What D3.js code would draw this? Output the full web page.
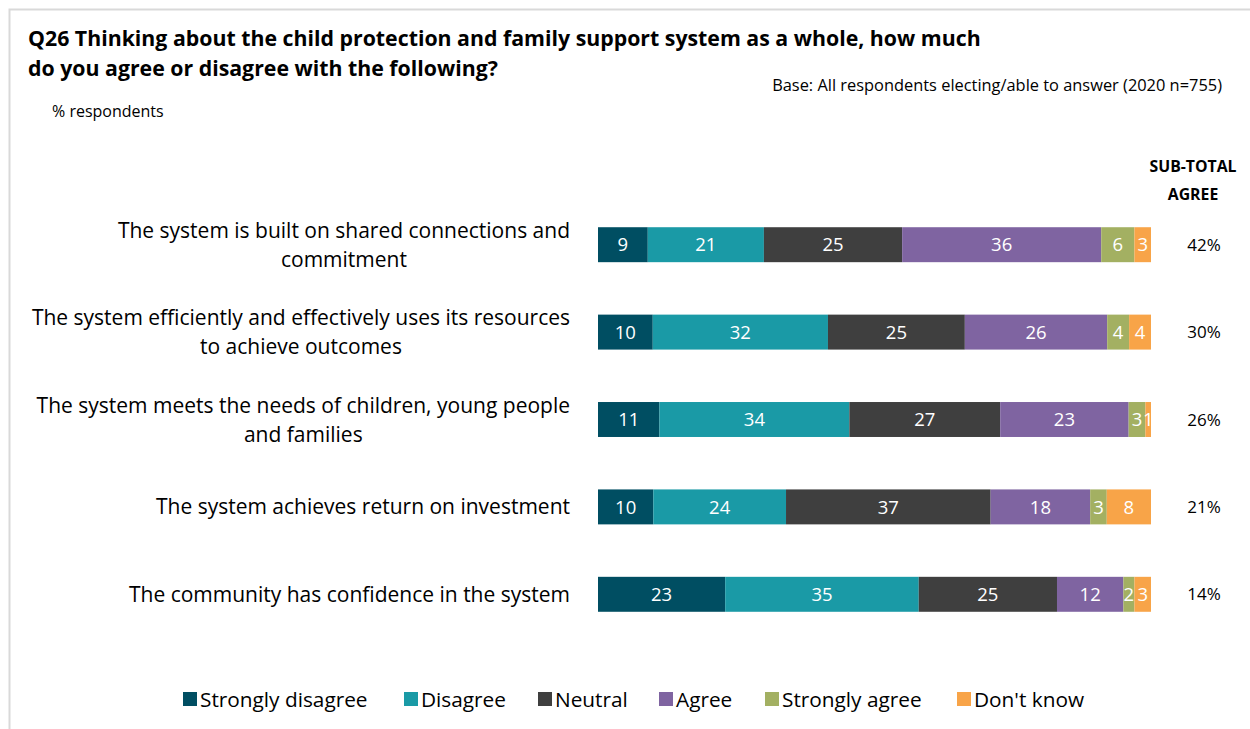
<!DOCTYPE html>
<html>
<head>
<meta charset="utf-8">
<script src="https://cdn.jsdelivr.net/npm/d3@7"></script>
<style>
  html, body { margin: 0; padding: 0; background: #fff; }
  svg { display: block; font-family: "Open Sans", "Noto Sans", sans-serif; }
</style>
</head>
<body>
<svg id="chart" width="1250" height="729"></svg>
<script>
// Survey statements (each entry is the list of lines a label wraps to)
const statements = [
  ["The system is built on shared connections and", "commitment"],
  ["The system efficiently and effectively uses its resources", "to achieve outcomes"],
  ["The system meets the needs of children, young people", "and families"],
  ["The system achieves return on investment"],
  ["The community has confidence in the system"]
];

const responseLevels = ["Strongly disagree", "Disagree", "Neutral", "Agree", "Strongly agree", "Don't know"];
const levelColors = ["#004e62", "#1a9aa6", "#3f3f3f", "#7f64a1", "#a3b062", "#f8a448"];

// Per-statement share of respondents (%) for each response level
const stronglyDisagree = [9, 10, 11, 10, 23];
const disagree         = [21, 32, 34, 24, 35];
const neutral          = [25, 25, 27, 37, 25];
const agree            = [36, 26, 23, 18, 12];
const stronglyAgree    = [6, 4, 3, 3, 2];
const dontKnow         = [3, 4, 1, 8, 3];

// Sub-total agree (%)
const subtotalAgree = [42, 30, 26, 21, 14];

const series = [stronglyDisagree, disagree, neutral, agree, stronglyAgree, dontKnow];
const rows = statements.map((s, i) => {
  const r = { id: i };
  responseLevels.forEach((lvl, j) => { r[lvl] = series[j][i]; });
  return r;
});

const svg = d3.select("#chart");

// Outer frame
svg.append("rect")
  .attr("x", 9.5).attr("y", 9.5)
  .attr("width", 1260).attr("height", 740)
  .attr("fill", "none").attr("stroke", "#d9d9d9").attr("stroke-width", 2);

// Title block
const title = svg.append("text")
  .attr("x", 28).attr("font-weight", "bold").attr("font-size", 21.3).attr("fill", "#000");
title.append("tspan").attr("x", 28).attr("y", 46)
  .text("Q26 Thinking about the child protection and family support system as a whole, how much");
title.append("tspan").attr("x", 28).attr("y", 76)
  .text("do you agree or disagree with the following?");

svg.append("text")
  .attr("x", 1222).attr("y", 91).attr("text-anchor", "end")
  .attr("font-size", 16.4).attr("fill", "#000")
  .text("Base: All respondents electing/able to answer (2020 n=755)");

svg.append("text")
  .attr("x", 52).attr("y", 117)
  .attr("font-size", 16).attr("fill", "#000")
  .text("% respondents");

// Scales
const x = d3.scaleLinear().domain([0, 1]).range([598, 1151]);
const y = d3.scaleBand().domain(rows.map(d => d.id)).range([201, 638])
  .paddingInner(0.6).paddingOuter(0.3);
const color = d3.scaleOrdinal().domain(responseLevels).range(levelColors);

// Each bar spans the full row total
const stack = d3.stack().keys(responseLevels).offset(d3.stackOffsetExpand);
const layers = stack(rows);

const layerG = svg.append("g").selectAll("g")
  .data(layers).join("g")
  .attr("fill", d => color(d.key));

layerG.selectAll("rect")
  .data(d => d)
  .join("rect")
  .attr("x", d => x(d[0]))
  .attr("y", d => y(d.data.id))
  .attr("width", d => x(d[1]) - x(d[0]))
  .attr("height", y.bandwidth());

// Segment value labels
svg.append("g").selectAll("g")
  .data(layers).join("g")
  .selectAll("text")
  .data(d => d.map(p => ({ p, key: d.key })))
  .join("text")
  .attr("x", d => (x(d.p[0]) + x(d.p[1])) / 2)
  .attr("y", d => y(d.p.data.id) + y.bandwidth() / 2)
  .attr("dy", "0.36em")
  .attr("text-anchor", "middle")
  .attr("font-size", 18.5)
  .attr("fill", "#fff")
  .text(d => d.p.data[d.key]);

// Statement labels: centred block, right edge at a fixed x
const labelRight = 570;
const lineGap = 29;
statements.forEach((lines, i) => {
  const cy = y(i) + y.bandwidth() / 2;
  const t = svg.append("text")
    .attr("font-size", 21).attr("fill", "#000")
    .attr("text-anchor", "middle");
  const spans = lines.map((ln, k) => t.append("tspan")
    .attr("y", cy + (k - (lines.length - 1) / 2) * lineGap)
    .attr("dy", "0.36em")
    .text(ln));
  const w = d3.max(spans, s => s.node().getComputedTextLength());
  spans.forEach(s => s.attr("x", labelRight - w / 2));
});

// Sub-total column
const subX = 1204;
svg.append("text").attr("x", 1193).attr("y", 172)
  .attr("text-anchor", "middle").attr("font-weight", "bold").attr("font-size", 15.8)
  .text("SUB-TOTAL");
svg.append("text").attr("x", 1193).attr("y", 200)
  .attr("text-anchor", "middle").attr("font-weight", "bold").attr("font-size", 15.8)
  .text("AGREE");

svg.append("g").selectAll("text")
  .data(subtotalAgree)
  .join("text")
  .attr("x", subX)
  .attr("y", (d, i) => y(i) + y.bandwidth() / 2)
  .attr("dy", "0.36em")
  .attr("text-anchor", "middle")
  .attr("font-size", 17)
  .text(d => d + "%");

// Legend
const legendX = [183, 404, 538, 659, 765, 957];
const legend = svg.append("g").selectAll("g")
  .data(responseLevels).join("g")
  .attr("transform", (d, i) => `translate(${legendX[i]},692)`);
legend.append("rect")
  .attr("width", 14).attr("height", 14)
  .attr("fill", d => color(d));
legend.append("text")
  .attr("x", 17).attr("y", 7).attr("dy", "0.36em")
  .attr("font-size", 20.8)
  .text(d => d);
</script>
</body>
</html>
